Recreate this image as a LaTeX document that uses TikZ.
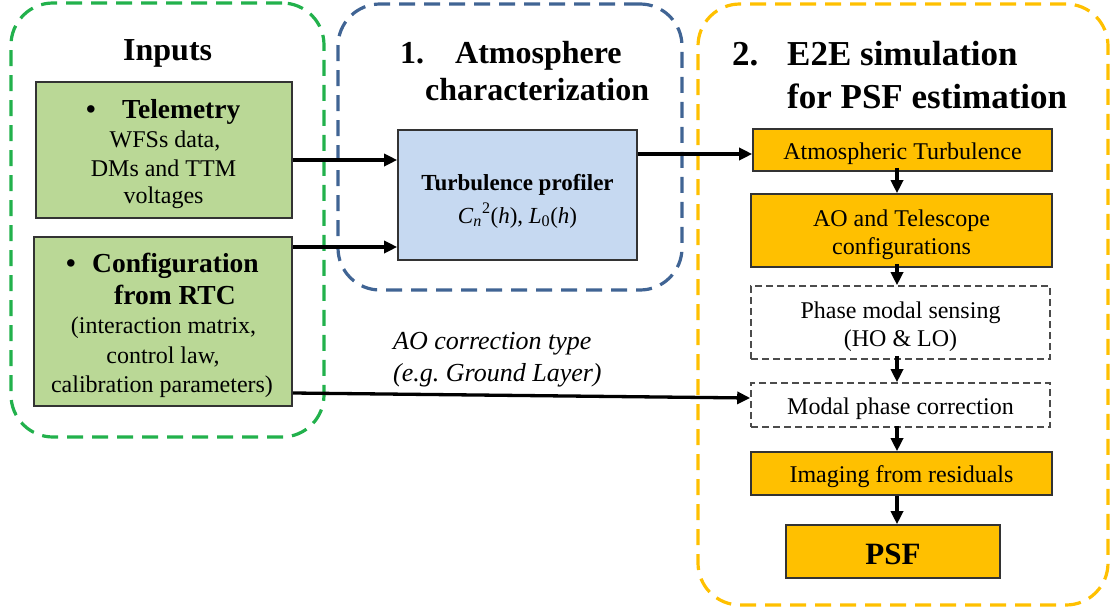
\documentclass[tikz,border=0pt]{standalone}
\usepackage{fontspec}
\setmainfont{Liberation Serif}
\usetikzlibrary{arrows.meta}
\definecolor{gline}{RGB}{34,177,76}
\definecolor{bline}{RGB}{64,100,148}
\definecolor{yline}{RGB}{255,192,0}
\definecolor{gfill}{RGB}{186,216,150}
\definecolor{bfill}{RGB}{198,217,241}
\definecolor{yfill}{RGB}{255,192,0}
\begin{document}
\begin{tikzpicture}[x=1pt,y=-1pt,
  group/.style={draw, line width=3.2pt, dash pattern=on 16pt off 9pt, rounded corners=42pt, inner sep=0pt},
  box/.style={draw=black!80, line width=1.6pt, inner sep=0pt},
  gbox/.style={box, fill=gfill},
  bbox/.style={box, fill=bfill},
  ybox/.style={box, fill=yfill},
  dbox/.style={box, draw=black!70, dash pattern=on 7pt off 4pt},
  txt/.style={inner sep=0pt, align=center, font=\fontsize{24}{28}\selectfont},
  arr/.style={line width=3.3pt, -{Triangle[length=13pt,width=12pt]}},
  ttl/.style={anchor=base west, inner sep=0pt, font=\bfseries\fontsize{32}{36}\selectfont},
  ttlb/.style={anchor=base west, inner sep=0pt, font=\bfseries\fontsize{35}{40}\selectfont},
  bl/.style={anchor=base west, inner sep=0pt, font=\bfseries\fontsize{27.5}{32}\selectfont},
  rl/.style={anchor=base, inner sep=0pt, font=\fontsize{24}{28}\selectfont},
  il/.style={anchor=base west, inner sep=0pt, font=\itshape\fontsize{26}{30}\selectfont}
]
\useasboundingbox (0,0) rectangle (1112,613);

% groups
\node[group, draw=gline, minimum width=313pt, minimum height=434pt] (gin) at (167.5,220) {};
\node[group, draw=bline, minimum width=344pt, minimum height=286pt] (gatm) at (510,147) {};
\node[group, draw=yline, minimum width=410pt, minimum height=601pt] (ge2e) at (903,304.5) {};

% titles
\node[ttl] (tin) at (123,60) {Inputs};
\node[ttl] (n1) at (400,63) {1.};
\node[ttl] (t1a) at (455,63) {Atmosphere};
\node[ttl] (t1b) at (425,100) {characterization};
\node[ttlb] (n2) at (732,65) {2.};
\node[ttlb] (t2a) at (787,65) {E2E simulation};
\node[ttlb] (t2b) at (787,108) {for PSF estimation};

% input boxes
\node[gbox, minimum width=256pt, minimum height=136pt] (tel) at (164,150) {};
\node[bl] (telb) at (86,118) {\textbullet};
\node[bl] (telt) at (122,118) {Telemetry};
\node[rl] (tel1) at (165,147) {WFSs data,};
\node[rl] (tel2) at (163.5,176) {DMs and TTM};
\node[rl] (tel3) at (163.5,203) {voltages};

\node[gbox, minimum width=258pt, minimum height=169pt] (cfg) at (163,321.5) {};
\node[bl] (cfgb) at (66,272) {\textbullet};
\node[bl] (cfgt) at (92,272) {Configuration};
\node[bl] (cfgu) at (114,304) {from RTC};
\node[rl] (cfg1) at (163.5,333) {(interaction matrix,};
\node[rl] (cfg2) at (163,363) {control law,};
\node[rl] (cfg3) at (162,392) {calibration parameters)};

% profiler
\node[bbox, minimum width=239pt, minimum height=130pt] (prof) at (517.5,195) {};
\node[txt, font=\bfseries\fontsize{23}{28}\selectfont, anchor=base] (profa) at (517.5,190) {Turbulence profiler};
\node[txt, font=\fontsize{23}{28}\selectfont, anchor=base] (profb) at (517.5,223)
  {\textit{C}\textsubscript{\textit{n}}\textsuperscript{2}(\textit{h}), \textit{L}\textsubscript{0}(\textit{h})};

% E2E chain
\node[ybox, minimum width=299pt, minimum height=42pt] (at) at (902.5,150) {};
\node[txt] (atT) at ([yshift=-4pt]at.center) {Atmospheric Turbulence};
\node[ybox, minimum width=301pt, minimum height=73pt] (ao) at (901.5,230.5) {};
\node[txt] (aoT) at ([yshift=-4pt]ao.center) {AO and Telescope\\configurations};
\node[dbox, minimum width=299pt, minimum height=73pt] (pms) at (900.5,322.5) {};
\node[txt] (pmsT) at ([yshift=-4pt]pms.center) {Phase modal sensing\\(HO \& LO)};
\node[dbox, minimum width=299pt, minimum height=44pt] (mpc) at (900.5,405) {};
\node[txt] (mpcT) at ([yshift=-4pt]mpc.center) {Modal phase correction};
\node[ybox, minimum width=301pt, minimum height=43pt] (img) at (901.5,473.5) {};
\node[txt] (imgT) at ([yshift=-3pt]img.center) {Imaging from residuals};
\node[ybox, minimum width=214pt, minimum height=53pt] (psf) at (893,551.5) {};
\node[txt, font=\bfseries\fontsize{31}{34}\selectfont] (psfT) at ([yshift=-3pt]psf.center) {PSF};

% label
\node[il] (lab1) at (393,349) {AO correction type};
\node[il] (lab2) at (393,381) {(e.g.\ Ground Layer)};

% connectors
\coordinate (p1) at ([yshift=-10pt]tel.east);
\draw[arr] (p1) -- (p1 -| prof.west);
\coordinate (p2) at ([yshift=-52pt]prof.west);
\draw[arr] (cfg.east |- p2) -- (p2);
\coordinate (p3) at ([yshift=-4pt]at.west);
\draw[arr] (prof.east |- p3) -- (p3);
\draw[arr] ([yshift=-71.5pt]cfg.east) -- ([yshift=7pt]mpc.west);

\coordinate (xc) at (897,0);
\draw[arr] ([yshift=4pt]at.south -| xc) -- (ao.north -| xc);
\draw[arr] ([yshift=4pt]ao.south -| xc) -- (pms.north -| xc);
\draw[arr] ([yshift=4pt]pms.south -| xc) -- (mpc.north -| xc);
\draw[arr] ([yshift=2pt]mpc.south -| xc) -- (img.north -| xc);
\draw[arr] (img.south -| xc) -- (psf.north -| xc);
\end{tikzpicture}
\end{document}
